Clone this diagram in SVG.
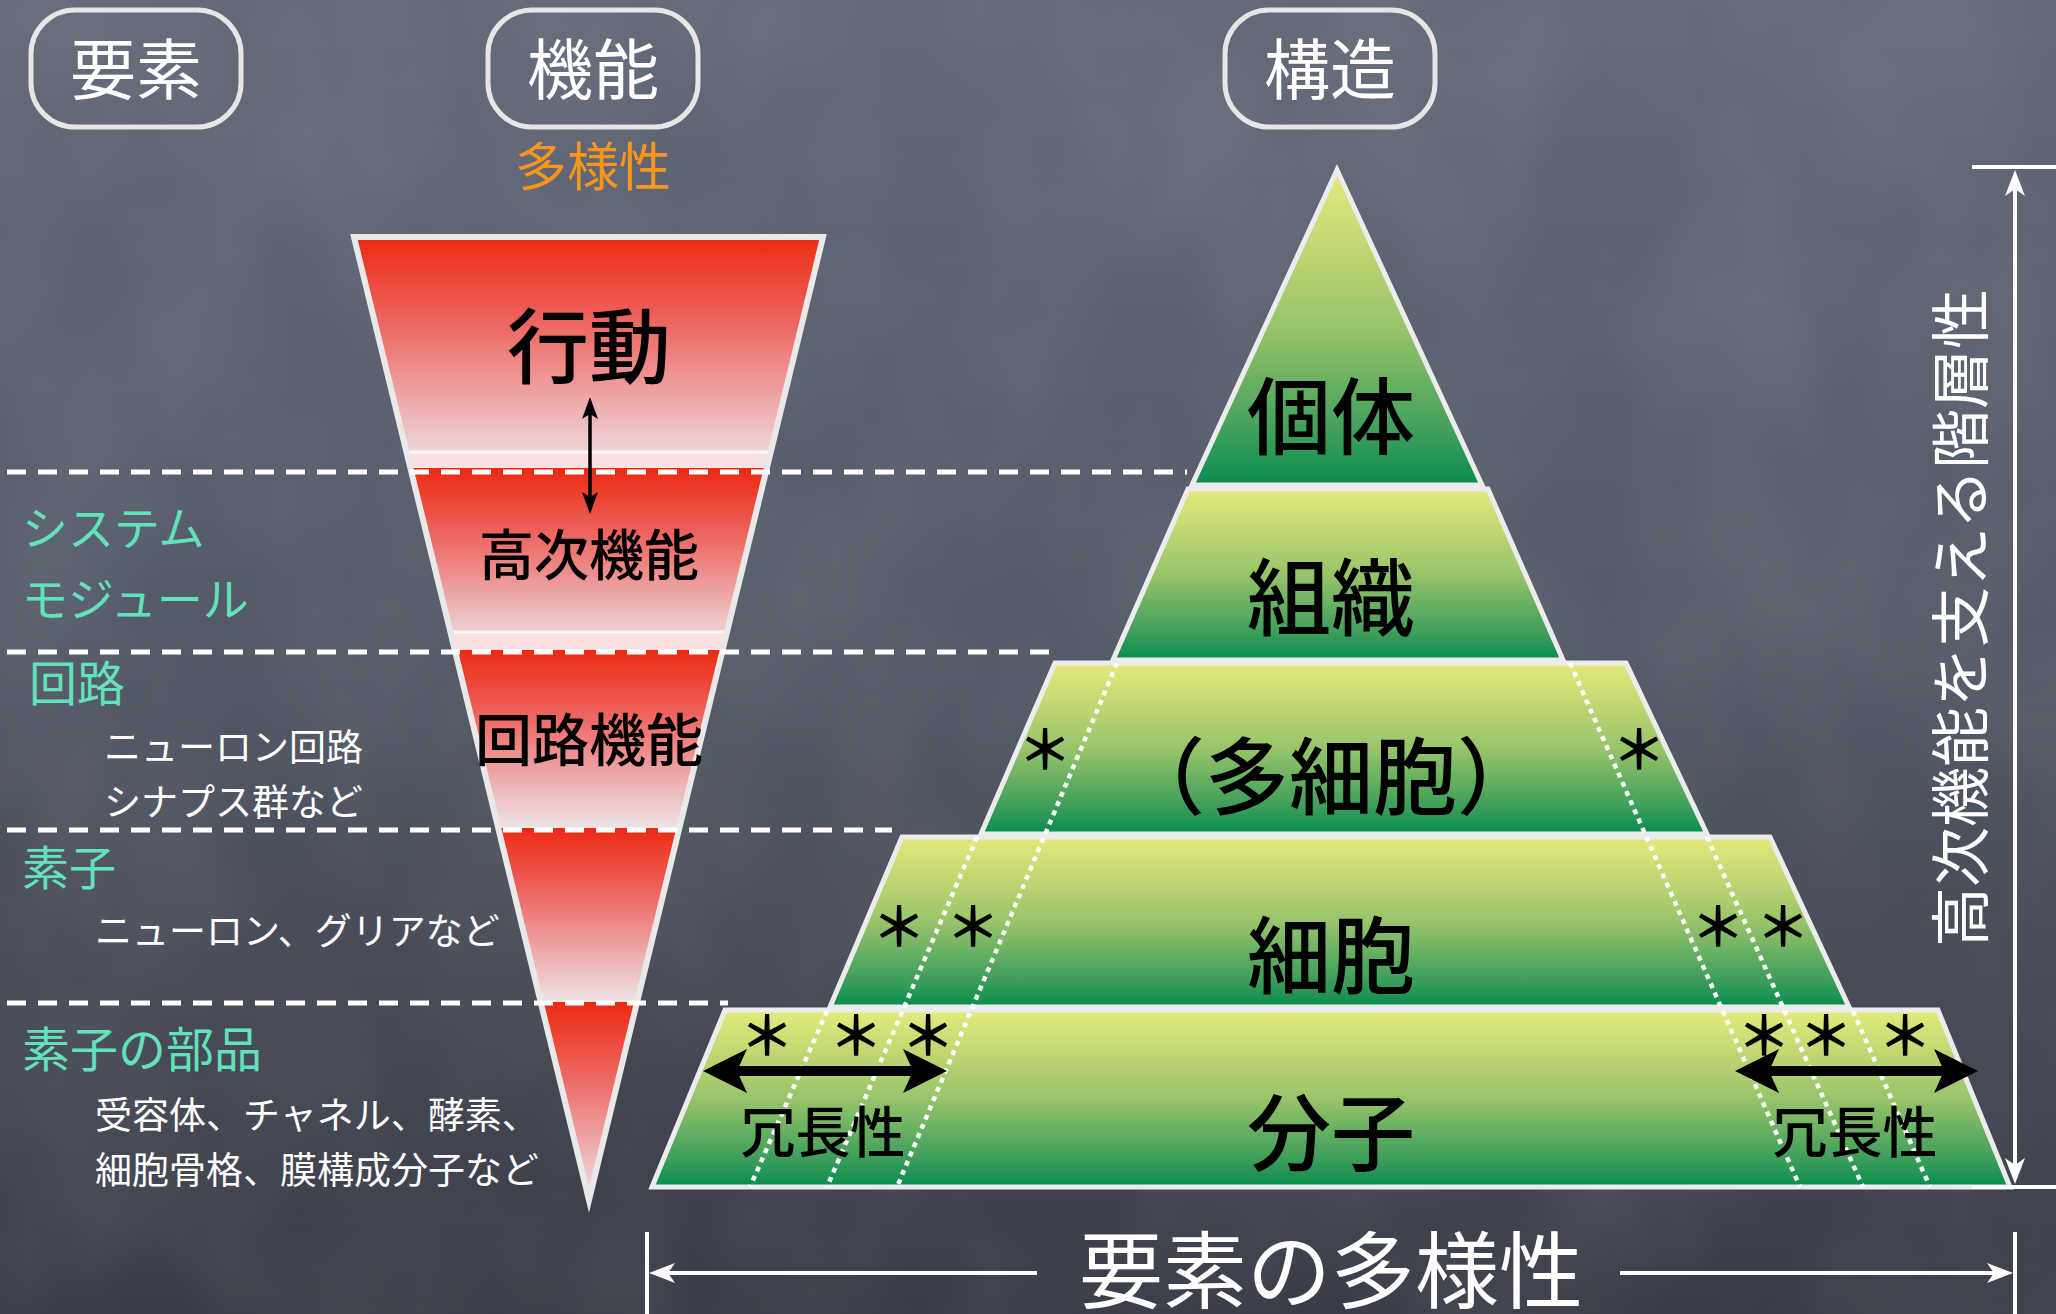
<svg xmlns="http://www.w3.org/2000/svg" width="2056" height="1314" viewBox="0 0 2056 1314">
<defs>
<linearGradient id="bg" x1="0" y1="0" x2="0" y2="1">
<stop offset="0" stop-color="#626877"/>
<stop offset="0.5" stop-color="#545967"/>
<stop offset="1" stop-color="#393c46"/>
</linearGradient>
<linearGradient id="red" x1="0" y1="0" x2="0" y2="1">
<stop offset="0" stop-color="#ec2a12"/>
<stop offset="0.35" stop-color="#ed625c"/>
<stop offset="0.7" stop-color="#eea7a8"/>
<stop offset="1" stop-color="#eee4e6"/>
</linearGradient>
<linearGradient id="green" x1="0" y1="0" x2="0" y2="1">
<stop offset="0" stop-color="#e6e97b"/>
<stop offset="0.5" stop-color="#98c46a"/>
<stop offset="0.85" stop-color="#3a9d5a"/>
<stop offset="1" stop-color="#068c4f"/>
</linearGradient>
<filter id="chalk" x="0" y="0" width="100%" height="100%">
<feTurbulence type="fractalNoise" baseFrequency="0.006 0.004" numOctaves="3" seed="7"/>
<feColorMatrix type="matrix" values="0 0 0 0 1  0 0 0 0 1  0 0 0 0 1  0.12 0 0 0 -0.04"/>
</filter>
<marker id="bh" viewBox="0 0 44 44" markerWidth="44" markerHeight="44" refX="14" refY="22" orient="auto-start-reverse" markerUnits="userSpaceOnUse">
<path d="M44,22 L0,0 L10,22 L0,44 Z" fill="#000"/>
</marker>
<marker id="bs" viewBox="0 0 22 16" markerWidth="22" markerHeight="16" refX="8" refY="8" orient="auto-start-reverse" markerUnits="userSpaceOnUse">
<path d="M22,8 L0,0 L5,8 L0,16 Z" fill="#000"/>
</marker>
<marker id="wh" viewBox="0 0 26 20" markerWidth="26" markerHeight="20" refX="10" refY="10" orient="auto-start-reverse" markerUnits="userSpaceOnUse">
<path d="M26,10 L0,0 L7,10 L0,20 Z" fill="#fff"/>
</marker>
</defs>
<style>
.t{font-family:"Noto Sans CJK JP","Noto Sans CJK SC",sans-serif}
.w{fill:#ffffff}
.k{fill:#000000;font-weight:500}
.c{fill:#62e1bc}
.o{fill:#f6961e}
.mid{text-anchor:middle}
.box{fill:none;stroke:#e6e6e6;stroke-width:5}
.seg{fill:url(#red)}
.band{fill:#fbe1e1;opacity:0.9}
.lvl{fill:url(#green);stroke:#ececec;stroke-width:5;stroke-linejoin:miter}
.dash{fill:none;stroke:#ffffff;stroke-width:5;stroke-dasharray:19 12}
.dot{fill:none;stroke:#ffffff;stroke-width:4.5;stroke-dasharray:5 5}
.ast{font-family:"Noto Sans CJK JP",sans-serif;font-size:54px;font-weight:700;fill:#000;text-anchor:middle}
.wl{fill:none;stroke:#ffffff;stroke-width:4}
</style>

<g id="background">
<rect width="2056" height="1314" fill="url(#bg)"/>
<rect width="2056" height="1314" filter="url(#chalk)"/>
</g>

<g id="header-youso">
<rect class="box" x="31" y="10" width="210" height="117" rx="44"/>
<text class="t w mid" x="136" y="94" font-size="66">要素</text>
</g>
<g id="header-kinou">
<rect class="box" x="488" y="10" width="210" height="117" rx="44"/>
<text class="t w mid" x="593" y="94" font-size="66">機能</text>
<text class="t o mid" x="593" y="186" font-size="52">多様性</text>
</g>
<g id="header-kouzou">
<rect class="box" x="1225" y="10" width="210" height="117" rx="44"/>
<text class="t w mid" x="1330" y="94" font-size="66">構造</text>
</g>

<g id="funnel">
<polygon class="seg" points="354,237 823,237 766.9,468 410.4,468"/>
<polygon class="band" points="406,452 771,452 766.9,468 410.4,468"/>
<polygon class="seg" points="410.4,468 766.9,468 722.6,650 454.8,650"/>
<polygon class="band" points="450,632 727,632 722.6,650 454.8,650"/>
<polygon class="seg" points="454.8,650 722.6,650 679.4,828 498.2,828"/>
<polygon class="seg" points="498.2,828 679.4,828 637.1,1002 540.7,1002"/>
<polygon class="seg" points="540.7,1002 637.1,1002 589,1200"/>
<line x1="406" y1="452" x2="771" y2="452" stroke="#ffffff" stroke-width="3" opacity="0.8"/>
<line x1="450" y1="632" x2="727" y2="632" stroke="#ffffff" stroke-width="3" opacity="0.8"/>
<polygon points="354,237 823,237 589,1200" fill="none" stroke="#e9e9e9" stroke-width="6" stroke-miterlimit="20"/>
<text class="t k mid" x="589" y="377" font-size="82">行動</text>
<text class="t k mid" x="589" y="575" font-size="55">高次機能</text>
<text class="t k mid" x="589" y="761" font-size="57">回路機能</text>
</g>

<g id="pyramid">
<g id="level-kotai">
<polygon class="lvl" points="1337,170 1482,485 1192,485"/>
<text class="t k mid" x="1331" y="448" font-size="84">個体</text>
</g>
<g id="level-soshiki">
<polygon class="lvl" points="1188,489 1488,489 1563,660 1113,660"/>
<text class="t k mid" x="1331" y="629" font-size="84">組織</text>
</g>
<g id="level-tasaibou">
<polygon class="lvl" points="1055,663 1626,663 1707,834 981,834"/>
<text class="t k mid" x="1331" y="808" font-size="84">（多細胞）</text>
</g>
<g id="level-saibou">
<polygon class="lvl" points="902,837 1770,837 1849,1007 830,1007"/>
<text class="t k mid" x="1331" y="987" font-size="84">細胞</text>
</g>
<g id="level-bunshi">
<polygon class="lvl" points="725,1010 1938,1010 2010,1187 652,1187"/>
<text class="t k mid" x="1331" y="1164" font-size="84">分子</text>
</g>
</g>

<g id="connectors">
<g id="level-dashes">
<line class="dash" x1="7" y1="472" x2="1187" y2="472"/>
<line class="dash" x1="7" y1="652" x2="1049" y2="652"/>
<line class="dash" x1="7" y1="830" x2="892" y2="830"/>
<line class="dash" x1="7" y1="1003" x2="728" y2="1003"/>
</g>
<g id="redundancy-dots">
<line class="dot" x1="1117" y1="663" x2="897" y2="1187"/>
<line class="dot" x1="977" y1="837" x2="827" y2="1187"/>
<line class="dot" x1="827" y1="1011" x2="750" y2="1187"/>
<line class="dot" x1="1570" y1="663" x2="1800" y2="1187"/>
<line class="dot" x1="1707" y1="837" x2="1863" y2="1187"/>
<line class="dot" x1="1853" y1="1011" x2="1930" y2="1187"/>
</g>
<line id="arrow-action" x1="590" y1="411" x2="590" y2="500" stroke="#000" stroke-width="3.5" marker-start="url(#bs)" marker-end="url(#bs)"/>
<line id="arrow-redund-left" x1="733" y1="1071" x2="917" y2="1071" stroke="#000" stroke-width="10" marker-start="url(#bh)" marker-end="url(#bh)"/>
<line id="arrow-redund-right" x1="1765" y1="1071" x2="1948" y2="1071" stroke="#000" stroke-width="10" marker-start="url(#bh)" marker-end="url(#bh)"/>
<g id="arrow-hierarchy">
<line class="wl" x1="1972" y1="167" x2="2056" y2="167"/>
<line class="wl" x1="1972" y1="1187" x2="2056" y2="1187"/>
<line class="wl" x1="2015" y1="186" x2="2015" y2="1168" marker-start="url(#wh)" marker-end="url(#wh)"/>
</g>
<g id="arrow-diversity">
<line class="wl" x1="647" y1="1232" x2="647" y2="1314"/>
<line class="wl" x1="2015" y1="1232" x2="2015" y2="1314"/>
<line class="wl" x1="665" y1="1273" x2="1037" y2="1273" marker-start="url(#wh)"/>
<line class="wl" x1="1620" y1="1273" x2="1997" y2="1273" marker-end="url(#wh)"/>
</g>
</g>

<g id="asterisks">
<text class="ast" x="1045" y="770">＊</text>
<text class="ast" x="1639" y="770">＊</text>
<text class="ast" x="899" y="947">＊</text>
<text class="ast" x="973" y="947">＊</text>
<text class="ast" x="1718" y="947">＊</text>
<text class="ast" x="1783" y="947">＊</text>
<text class="ast" x="767" y="1056">＊</text>
<text class="ast" x="856" y="1056">＊</text>
<text class="ast" x="928" y="1056">＊</text>
<text class="ast" x="1764" y="1056">＊</text>
<text class="ast" x="1826" y="1056">＊</text>
<text class="ast" x="1905" y="1056">＊</text>
</g>

<g id="redundancy-labels">
<text class="t k mid" x="823" y="1152" font-size="55">冗長性</text>
<text class="t k mid" x="1855" y="1152" font-size="55">冗長性</text>
</g>

<g id="element-labels">
<text class="t c" x="22" y="545" font-size="46">システム</text>
<text class="t c" x="22" y="616" font-size="46">モジュール</text>
<text class="t c" x="29" y="701" font-size="48">回路</text>
<text class="t w" x="104" y="761" font-size="37">ニューロン回路</text>
<text class="t w" x="104" y="816" font-size="37">シナプス群など</text>
<text class="t c" x="22" y="885" font-size="47">素子</text>
<text class="t w" x="95" y="945" font-size="37">ニューロン、グリアなど</text>
<text class="t c" x="22" y="1067" font-size="48">素子の部品</text>
<text class="t w" x="95" y="1129" font-size="37">受容体、チャネル、酵素、</text>
<text class="t w" x="95" y="1184" font-size="37">細胞骨格、膜構成分子など</text>
</g>

<g id="axis-labels">
<text class="t w mid" transform="translate(1983,618) rotate(-90)" font-size="60">高次機能を支える階層性</text>
<text class="t w mid" x="1331" y="1302" font-size="84">要素の多様性</text>
</g>
</svg>
